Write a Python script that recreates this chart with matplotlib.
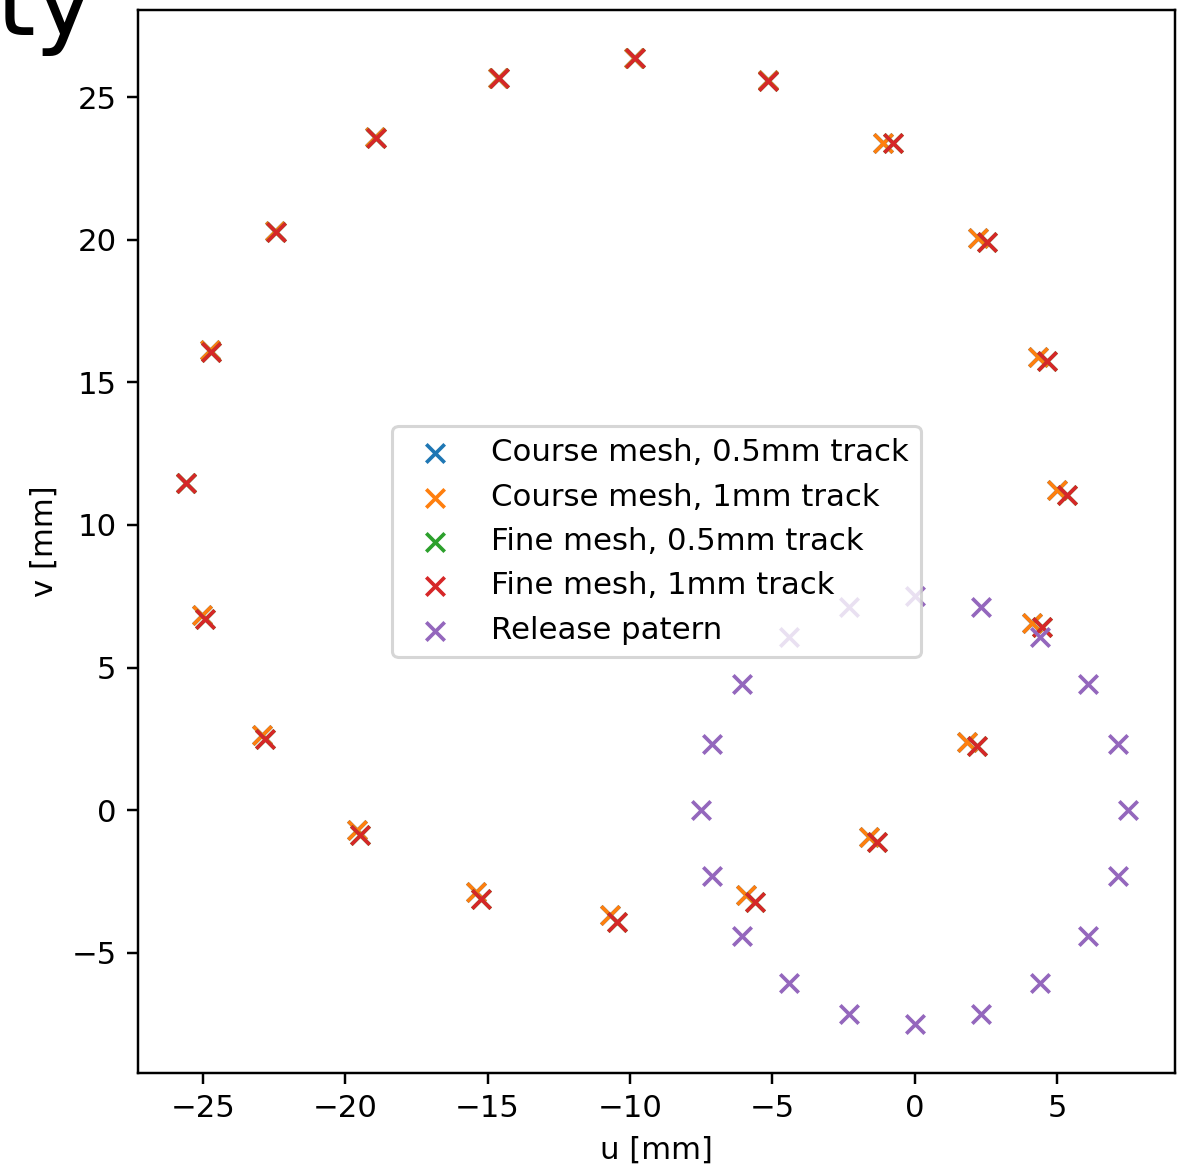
import matplotlib
matplotlib.use("Agg")
import matplotlib.pyplot as plt

# impact positions (u, v) in mm
coarse_1mm_u = [-25.58, -24.75, -22.46, -18.95, -14.62, -9.86, -5.17, -1.12, 2.22, 4.33,
                5.00, 4.12, 1.84, -1.61, -5.93, -10.70, -15.42, -19.59, -22.92, -25.03]
coarse_1mm_v = [11.48, 16.12, 20.30, 23.59, 25.68, 26.38, 25.58, 23.39, 20.06, 15.89,
                11.23, 6.57, 2.40, -0.93, -2.97, -3.68, -2.85, -0.69, 2.64, 6.84]
fine_1mm_u = [-25.58, -24.70, -22.44, -18.93, -14.60, -9.84, -5.15, -0.76, 2.54, 4.65,
              5.35, 4.47, 2.19, -1.32, -5.61, -10.46, -15.23, -19.47, -22.82, -24.91]
fine_1mm_v = [11.46, 16.07, 20.28, 23.57, 25.66, 26.36, 25.56, 23.39, 19.92, 15.75,
              11.05, 6.43, 2.26, -1.11, -3.22, -3.91, -3.12, -0.87, 2.50, 6.70]
# 0.5mm track runs sit underneath the 1mm ones
coarse_05mm_u = coarse_1mm_u
coarse_05mm_v = coarse_1mm_v
fine_05mm_u = fine_1mm_u
fine_05mm_v = fine_1mm_v

release_u = [7.50, 7.13, 6.07, 4.41, 2.32, 0.00, -2.32, -4.41, -6.07, -7.13,
             -7.50, -7.13, -6.07, -4.41, -2.32, 0.00, 2.32, 4.41, 6.07, 7.13]
release_v = [0.00, 2.32, 4.41, 6.07, 7.13, 7.50, 7.13, 6.07, 4.41, 2.32,
             0.00, -2.32, -4.41, -6.07, -7.13, -7.50, -7.13, -6.07, -4.41, -2.32]

W, H, DPI = 1181, 1166, 221
fig = plt.figure(figsize=(W / DPI, H / DPI), dpi=DPI)
ax = fig.add_axes([138 / W, 1 - 1073 / H, (1175 - 138) / W, (1073 - 10) / H])

lw = 1.2
ax.scatter(coarse_05mm_u, coarse_05mm_v, marker='x', color='C0', linewidths=lw, label='Course mesh, 0.5mm track')
ax.scatter(coarse_1mm_u, coarse_1mm_v, marker='x', color='C1', linewidths=lw, label='Course mesh, 1mm track')
ax.scatter(fine_05mm_u, fine_05mm_v, marker='x', color='C2', linewidths=lw, label='Fine mesh, 0.5mm track')
ax.scatter(fine_1mm_u, fine_1mm_v, marker='x', color='C3', linewidths=lw, label='Fine mesh, 1mm track')
ax.scatter(release_u, release_v, marker='x', color='C4', linewidths=lw, label='Release patern')

ax.set_xlim(-27.28, 9.14)
ax.set_ylim(-9.21, 28.05)
ax.set_xlabel('u [mm]')
ax.set_ylabel('v [mm]')
ax.legend(loc='center')

# tail end of a neighbouring title, cut by the crop
fig.text(95 / W, 1 - 35 / H, 'ty', ha='right', va='baseline', fontsize=33)

fig.savefig('out.png', dpi=DPI)
